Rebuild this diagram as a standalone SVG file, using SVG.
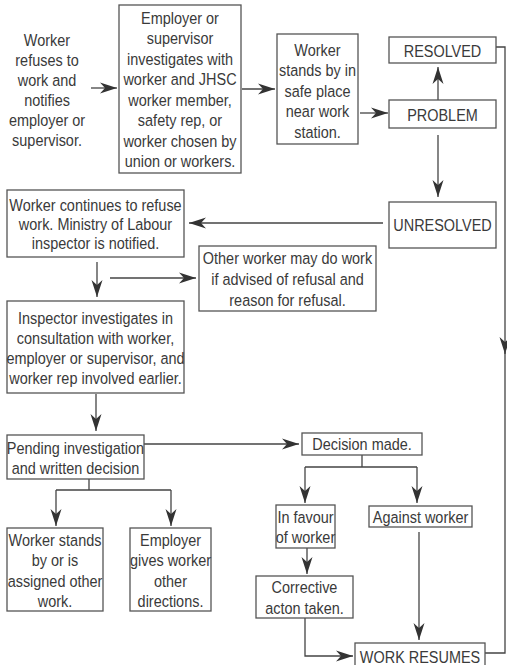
<svg xmlns="http://www.w3.org/2000/svg" width="507" height="665" viewBox="0 0 507 665">
<style>
.b{fill:#fff;stroke:#555;stroke-width:1.3}
.t{font-family:"Liberation Sans",Arial,sans-serif;font-size:17px;fill:#3a3a3a;text-anchor:middle}
.c{fill:none;stroke:#444;stroke-width:1.3}
</style>
<defs>
<marker id="ah" markerUnits="userSpaceOnUse" markerWidth="19" markerHeight="12" refX="17" refY="6" orient="auto">
<path d="M0,0.5 L17,6 L0,11.5 L5,6 z" fill="#333"/>
</marker>
</defs>
<rect width="507" height="665" fill="#fff"/>
<g id="connectors">
<path class="c" d="M91,88 H117" marker-end="url(#ah)"/>
<path class="c" d="M242,89 H275" marker-end="url(#ah)"/>
<path class="c" d="M360,113 H388" marker-end="url(#ah)"/>
<path class="c" d="M438,100 V67" marker-end="url(#ah)"/>
<path class="c" d="M438,135 V197" marker-end="url(#ah)"/>
<path class="c" d="M383,223 H189" marker-end="url(#ah)"/>
<path class="c" d="M97,262 V297" marker-end="url(#ah)"/>
<path class="c" d="M110,278 H196" marker-end="url(#ah)"/>
<path class="c" d="M96,394 V431" marker-end="url(#ah)"/>
<path class="c" d="M144,444 H299" marker-end="url(#ah)"/>
<path class="c" d="M89,479 V490 M56,490 H171"/>
<path class="c" d="M56,490 V526" marker-end="url(#ah)"/>
<path class="c" d="M171,490 V526" marker-end="url(#ah)"/>
<path class="c" d="M362,455 V467 M305,467 H417"/>
<path class="c" d="M305,467 V503" marker-end="url(#ah)"/>
<path class="c" d="M417,467 V503" marker-end="url(#ah)"/>
<path class="c" d="M307,548 V574" marker-end="url(#ah)"/>
<path class="c" d="M419,532 V640" marker-end="url(#ah)"/>
<path class="c" d="M305,618 V656 H353" marker-end="url(#ah)"/>
<path class="c" d="M496,47 H505 V354" marker-end="url(#ah)"/>
<path class="c" d="M505,350 V653 H485"/>
</g>
<g id="n1">
<g transform="translate(47,0) scale(0.85,1)">
<text class="t" x="0" y="46">Worker</text>
<text class="t" x="0" y="66">refuses to</text>
<text class="t" x="0" y="86">work and</text>
<text class="t" x="0" y="106">notifies</text>
<text class="t" x="0" y="126">employer or</text>
<text class="t" x="0" y="146">supervisor.</text>
</g>
</g>
<g id="n2">
<rect class="b" x="119" y="5" width="122" height="168"/>
<g transform="translate(180,0) scale(0.85,1)">
<text class="t" x="0" y="24">Employer or</text>
<text class="t" x="0" y="44">supervisor</text>
<text class="t" x="0" y="65">investigates with</text>
<text class="t" x="0" y="85">worker and JHSC</text>
<text class="t" x="0" y="106">worker member,</text>
<text class="t" x="0" y="126">safety rep, or</text>
<text class="t" x="0" y="147">worker chosen by</text>
<text class="t" x="0" y="167">union or workers.</text>
</g>
</g>
<g id="n3">
<rect class="b" x="277" y="34" width="81" height="110"/>
<g transform="translate(317.5,0) scale(0.85,1)">
<text class="t" x="0" y="56">Worker</text>
<text class="t" x="0" y="76">stands by in</text>
<text class="t" x="0" y="97">safe place</text>
<text class="t" x="0" y="117">near work</text>
<text class="t" x="0" y="138">station.</text>
</g>
</g>
<g id="resolved">
<rect class="b" x="389" y="37" width="107" height="26"/>
<text class="t" transform="translate(442.5,0) scale(0.85,1)" x="0" y="57">RESOLVED</text>
</g>
<g id="problem">
<rect class="b" x="389" y="100" width="107" height="28"/>
<text class="t" transform="translate(442.5,0) scale(0.85,1)" x="0" y="121">PROBLEM</text>
</g>
<g id="unresolved">
<rect class="b" x="389" y="202" width="107" height="46"/>
<text class="t" transform="translate(442.5,0) scale(0.85,1)" x="0" y="231">UNRESOLVED</text>
</g>
<g id="n-continues">
<rect class="b" x="7" y="190" width="177" height="67"/>
<g transform="translate(95.5,0) scale(0.85,1)">
<text class="t" x="0" y="211">Worker continues to refuse</text>
<text class="t" x="0" y="230">work. Ministry of Labour</text>
<text class="t" x="0" y="249">inspector is notified.</text>
</g>
</g>
<g id="n-other">
<rect class="b" x="199" y="246" width="177" height="65"/>
<g transform="translate(287.5,0) scale(0.85,1)">
<text class="t" x="0" y="264">Other worker may do work</text>
<text class="t" x="0" y="285">if advised of refusal and</text>
<text class="t" x="0" y="306">reason for refusal.</text>
</g>
</g>
<g id="n-inspector">
<rect class="b" x="7" y="301" width="177" height="92"/>
<g transform="translate(95.5,0) scale(0.85,1)">
<text class="t" x="0" y="324">Inspector investigates in</text>
<text class="t" x="0" y="344">consultation with worker,</text>
<text class="t" x="0" y="364">employer or supervisor, and</text>
<text class="t" x="0" y="384">worker rep involved earlier.</text>
</g>
</g>
<g id="n-pending">
<rect class="b" x="7" y="435" width="137" height="44"/>
<g transform="translate(75.5,0) scale(0.85,1)">
<text class="t" x="0" y="454">Pending investigation</text>
<text class="t" x="0" y="474">and written decision</text>
</g>
</g>
<g id="n-stands">
<rect class="b" x="7" y="528" width="96" height="83"/>
<g transform="translate(55,0) scale(0.85,1)">
<text class="t" x="0" y="546">Worker stands</text>
<text class="t" x="0" y="566">by or is</text>
<text class="t" x="0" y="587">assigned other</text>
<text class="t" x="0" y="607">work.</text>
</g>
</g>
<g id="n-employer">
<rect class="b" x="130" y="528" width="81" height="83"/>
<g transform="translate(170.5,0) scale(0.85,1)">
<text class="t" x="0" y="546">Employer</text>
<text class="t" x="0" y="566">gives worker</text>
<text class="t" x="0" y="587">other</text>
<text class="t" x="0" y="607">directions.</text>
</g>
</g>
<g id="n-decision">
<rect class="b" x="302" y="433" width="120" height="22"/>
<text class="t" transform="translate(362,0) scale(0.85,1)" x="0" y="450">Decision made.</text>
</g>
<g id="n-favour">
<rect class="b" x="276" y="505" width="59" height="43"/>
<g transform="translate(305.5,0) scale(0.85,1)">
<text class="t" x="0" y="523">In favour</text>
<text class="t" x="0" y="543">of worker</text>
</g>
</g>
<g id="n-against">
<rect class="b" x="369" y="506" width="103" height="21"/>
<text class="t" transform="translate(420.5,0) scale(0.85,1)" x="0" y="523">Against worker</text>
</g>
<g id="n-corrective">
<rect class="b" x="256" y="576" width="97" height="42"/>
<g transform="translate(304.5,0) scale(0.85,1)">
<text class="t" x="0" y="593">Corrective</text>
<text class="t" x="0" y="614">acton taken.</text>
</g>
</g>
<g id="n-resumes">
<rect class="b" x="355" y="643" width="130" height="24"/>
<text class="t" transform="translate(420,0) scale(0.85,1)" x="0" y="663">WORK RESUMES</text>
</g>
</svg>
